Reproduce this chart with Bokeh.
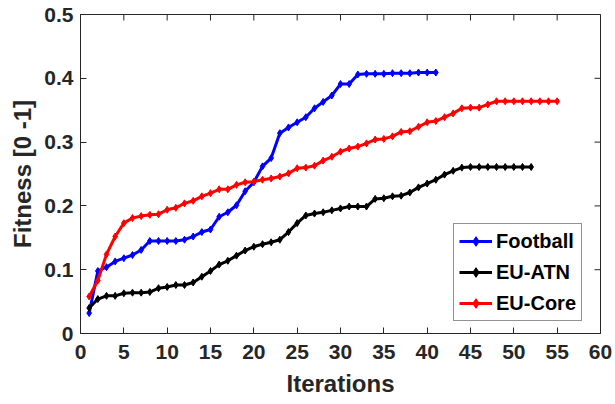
from bokeh.plotting import figure
from bokeh.models import Legend, LegendItem, FixedTicker, Range1d
from bokeh.embed import file_html
from bokeh.resources import INLINE

football_x = list(range(1, 42))
football_y = [0.032, 0.098, 0.104, 0.113, 0.118, 0.123, 0.131, 0.145, 0.145, 0.145,
              0.145, 0.147, 0.152, 0.159, 0.163, 0.183, 0.190, 0.201, 0.223, 0.237,
              0.262, 0.275, 0.314, 0.323, 0.331, 0.339, 0.353, 0.363, 0.373, 0.391,
              0.391, 0.406, 0.407, 0.407, 0.407, 0.408, 0.408, 0.408, 0.409, 0.409, 0.409]

euatn_x = list(range(1, 53))
euatn_y = [0.040, 0.054, 0.059, 0.059, 0.063, 0.064, 0.064, 0.065, 0.071, 0.073,
           0.076, 0.076, 0.080, 0.089, 0.098, 0.108, 0.114, 0.122, 0.130, 0.136,
           0.140, 0.143, 0.147, 0.159, 0.173, 0.185, 0.188, 0.190, 0.193, 0.196,
           0.199, 0.199, 0.199, 0.211, 0.212, 0.215, 0.216, 0.221, 0.229, 0.235,
           0.241, 0.249, 0.255, 0.260, 0.261, 0.261, 0.261, 0.261, 0.261, 0.261,
           0.261, 0.261]

eucore_x = list(range(1, 56))
eucore_y = [0.058, 0.083, 0.124, 0.152, 0.173, 0.181, 0.184, 0.186, 0.187, 0.194,
            0.197, 0.204, 0.208, 0.215, 0.220, 0.226, 0.226, 0.233, 0.237, 0.238,
            0.241, 0.243, 0.246, 0.251, 0.259, 0.260, 0.263, 0.271, 0.277, 0.285,
            0.290, 0.293, 0.298, 0.304, 0.305, 0.309, 0.316, 0.317, 0.324, 0.331,
            0.333, 0.339, 0.345, 0.353, 0.354, 0.354, 0.359, 0.364, 0.364, 0.364,
            0.364, 0.364, 0.364, 0.364, 0.364]

x_ticks = list(range(0, 61, 5))
y_ticks = [0, 0.1, 0.2, 0.3, 0.4, 0.5]
y_tick_labels = {0: "0", 0.1: "0.1", 0.2: "0.2", 0.3: "0.3", 0.4: "0.4", 0.5: "0.5"}

FONT = "Liberation Sans"
AX = "#262626"
X0, X1, Y0, Y1 = 0, 60, 0, 0.5
FRAME_W, FRAME_H = 520, 319
TICK_PX = 6

p = figure(width=615, height=404, output_backend="svg", toolbar_location=None,
           x_range=Range1d(X0, X1), y_range=Range1d(Y0, Y1),
           frame_width=FRAME_W, frame_height=FRAME_H,
           min_border_left=80, min_border_right=15, min_border_top=14, min_border_bottom=71)
p.grid.visible = False
p.outline_line_color = AX
p.outline_line_width = 1
p.background_fill_color = "white"
p.border_fill_color = "white"

for ax in (p.xaxis[0], p.yaxis[0]):
    ax.major_tick_in = TICK_PX
    ax.major_tick_out = 0
    ax.minor_tick_in = 0
    ax.minor_tick_out = 0
    ax.axis_line_color = AX
    ax.major_tick_line_color = AX
    ax.major_label_text_font = FONT
    ax.major_label_text_font_style = "bold"
    ax.major_label_text_font_size = "21px"
    ax.major_label_text_color = AX
    ax.axis_label_text_font = FONT
    ax.axis_label_text_font_style = "bold"
    ax.axis_label_text_font_size = "24px"
    ax.axis_label_text_color = AX

p.xaxis.ticker = FixedTicker(ticks=x_ticks)
p.yaxis.ticker = FixedTicker(ticks=y_ticks)
p.yaxis.major_label_overrides = y_tick_labels
p.xaxis.axis_label = "Iterations"
p.yaxis.axis_label = "Fitness [0 -1]"
p.xaxis.major_label_standoff = 11
p.xaxis.axis_label_standoff = 8
p.yaxis.major_label_standoff = 7
p.yaxis.axis_label_standoff = 5

# inward ticks on the top and right edges of the box (MATLAB style)
dy = (Y1 - Y0) * TICK_PX / FRAME_H
dx = (X1 - X0) * TICK_PX / FRAME_W
p.segment(x0=x_ticks, x1=x_ticks, y0=[Y1] * len(x_ticks), y1=[Y1 - dy] * len(x_ticks),
          line_color=AX, line_width=1)
p.segment(x0=[X1] * len(y_ticks), x1=[X1 - dx] * len(y_ticks), y0=y_ticks, y1=y_ticks,
          line_color=AX, line_width=1)

series = [("Football", football_x, football_y, "#0000ff"),
          ("EU-ATN", euatn_x, euatn_y, "#000000"),
          ("EU-Core", eucore_x, eucore_y, "#ff0000")]

items = []
for name, xs, ys, col in series:
    l = p.line(xs, ys, line_color=col, line_width=3)
    s = p.scatter(xs, ys, marker="diamond", size=7, fill_color=col, line_color=col)
    items.append(LegendItem(label=name, renderers=[l, s]))

legend = Legend(items=items, location=(373, 12), border_line_color=AX, border_line_width=1,
                label_text_font=FONT, label_text_font_style="bold", label_text_font_size="20px",
                label_text_color="#000000", glyph_width=33, glyph_height=24, label_height=24,
                label_standoff=4, spacing=7, padding=5, margin=0,
                background_fill_color="white", background_fill_alpha=1)
p.add_layout(legend, "center")

open("out.html", "w").write(file_html(p, INLINE))
